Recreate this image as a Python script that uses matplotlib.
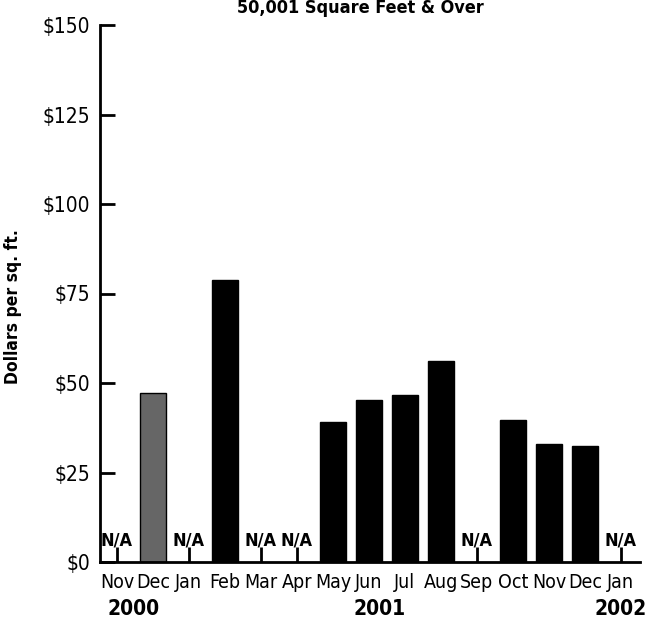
import matplotlib
matplotlib.use('Agg')
import matplotlib.pyplot as plt
from matplotlib import font_manager

# Data
months = ['Nov', 'Dec', 'Jan', 'Feb', 'Mar', 'Apr', 'May', 'Jun', 'Jul', 'Aug',
          'Sep', 'Oct', 'Nov', 'Dec', 'Jan']
values = [None, 47.2, None, 78.8, None, None, 39.1, 45.3, 46.6, 56.1,
          None, 39.7, 33.0, 32.4, None]
highlight = [False, True] + [False] * 13
years = ['2000', '2001', '2002']
year_pos = [0.45, 7.3, 14.0]
yticks = [0, 25, 50, 75, 100, 125, 150]

# look for a narrow font, the original uses a condensed grotesque
narrow = [f for f in font_manager.fontManager.ttflist
          if ('Narrow' in f.name or 'Condensed' in f.name or f.stretch in ('condensed', 'semi-condensed'))]
stretch = 'normal'
if narrow:
    fam = narrow[0].name
    stretch = narrow[0].stretch
else:
    fam = 'DejaVu Sans'
plt.rcParams['font.family'] = [fam, 'DejaVu Sans']
plt.rcParams['font.stretch'] = stretch

fig = plt.figure(figsize=(6.63, 6.21), dpi=100)
ax = fig.add_axes([100 / 663, 1 - 562 / 621, 540 / 663, 537 / 621])
ax.set_axisbelow(True)

x = list(range(len(months)))
for i, v in enumerate(values):
    if v is None:
        ax.text(i, 5.9, 'N/A', ha='center', va='center', fontsize=13, fontweight='bold')
    else:
        color = '#666666' if highlight[i] else 'black'
        ax.bar(i, v, width=0.72, color=color, edgecolor='black', linewidth=1)

ax.set_xlim(-0.47, 14.53)
ax.set_ylim(0, 150)

ax.spines['top'].set_visible(False)
ax.spines['right'].set_visible(False)
ax.spines['left'].set_linewidth(2)
ax.spines['bottom'].set_linewidth(2)

ax.set_yticks(yticks)
ax.set_yticklabels(['$' + str(t) for t in yticks], fontsize=15)
ax.set_xticks(x)
ax.set_xticklabels(months, fontsize=14)
ax.tick_params(axis='both', direction='in', length=11, width=2)
ax.tick_params(axis='y', pad=7)
ax.tick_params(axis='x', pad=8)

for yr, p in zip(years, year_pos):
    ax.text(p, -13, yr, ha='center', va='center', fontsize=15, fontweight='bold')

ax.set_ylabel('Dollars per sq. ft.', fontsize=12.5, fontweight='bold')
ax.yaxis.set_label_coords(-78 / 540, 0.475)

fig.text(360 / 663, 1 - 8 / 621, '50,001 Square Feet & Over', ha='center', va='center',
         fontsize=13, fontweight='bold')

fig.savefig('out.png', dpi=100)
